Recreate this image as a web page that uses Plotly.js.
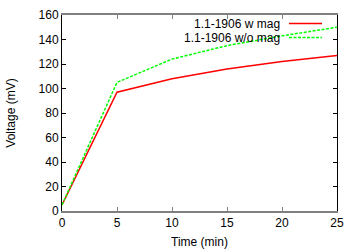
<!DOCTYPE html>
<html><head><meta charset="utf-8">
<script src="https://cdn.plot.ly/plotly-3.0.1.min.js"></script>
<style>html,body{margin:0;padding:0;background:#fff}#c{width:360px;height:252px}</style>
</head><body><div id="c"></div>
<script>
const timeMin = [0, 5, 10, 15, 20, 25];
const withMag = [5, 97, 108, 116, 122, 127];
const withoutMag = [5, 105, 124, 135, 143, 150];
const seriesNames = ["1.1-1906 w mag", "1.1-1906 w/o mag"];
const xTicks = [0, 5, 10, 15, 20, 25];
const yTicks = [0, 20, 40, 60, 80, 100, 120, 140, 160];

const font = {family: "Liberation Sans, Arial, sans-serif", size: 12, color: "#000"};
const traces = [
  {x: timeMin, y: withMag, name: seriesNames[0], mode: "lines", line: {color: "#ff0000", width: 1.5}},
  {x: timeMin, y: withoutMag, name: seriesNames[1], mode: "lines", line: {color: "#00ff00", width: 1.5, dash: "3px,1.5px"}}
];
const ly = [23.5, 37.5];
const layout = {
  width: 360, height: 252,
  margin: {l: 62, r: 23, t: 15, b: 41},
  paper_bgcolor: "#fff", plot_bgcolor: "#fff",
  font: font,
  showlegend: false,
  xaxis: {range: [0, 25], tickvals: xTicks, ticks: "inside", ticklen: 4, tickcolor: "#808080",
    showline: true, linecolor: "#808080", linewidth: 2, mirror: "ticks", showgrid: false, zeroline: false,
    title: {text: "Time (min)", font: font, standoff: 8}, tickfont: font},
  yaxis: {range: [0, 160], tickvals: yTicks, ticks: "inside", ticklen: 4, tickcolor: "#000",
    showline: true, linecolor: "#000", linewidth: 1, mirror: "ticks", showgrid: false, zeroline: false,
    title: {text: "Voltage (mV)", font: font, standoff: 20}, tickfont: font},
  annotations: [
    {xref: "paper", yref: "paper", x: (281-62)/275, y: (211-ly[0])/196, text: seriesNames[0], showarrow: false, xanchor: "right", yanchor: "middle", borderpad: 0, font: font},
    {xref: "paper", yref: "paper", x: (281-62)/275, y: (211-ly[1])/196, text: seriesNames[1], showarrow: false, xanchor: "right", yanchor: "middle", borderpad: 0, font: font}
  ],
  shapes: [
    {type: "line", xref: "paper", yref: "paper", x0: (289-62)/275, x1: (322-62)/275, y0: (211-ly[0])/196, y1: (211-ly[0])/196, line: {color: "#ff0000", width: 1.5}},
    {type: "line", xref: "paper", yref: "paper", x0: (289-62)/275, x1: (322-62)/275, y0: (211-ly[1])/196, y1: (211-ly[1])/196, line: {color: "#00ff00", width: 1.5, dash: "3px,1.5px"}}
  ]
};
Plotly.newPlot("c", traces, layout, {staticPlot: true, displayModeBar: false});
</script></body></html>
